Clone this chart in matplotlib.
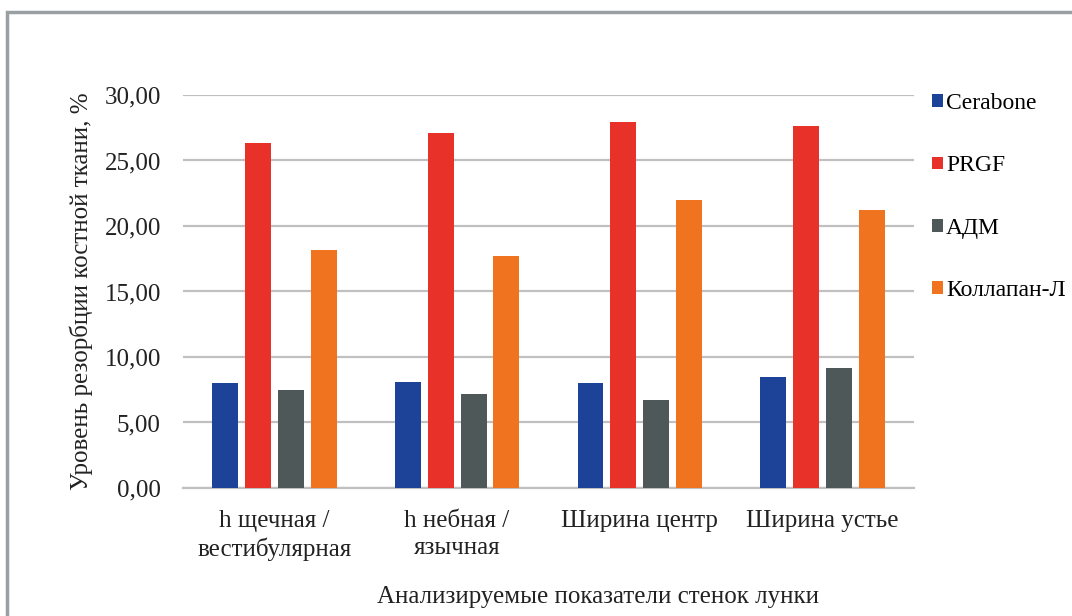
import matplotlib
matplotlib.use("Agg")
import matplotlib.pyplot as plt
import numpy as np
from matplotlib.patches import Rectangle

plt.rcParams['font.family'] = ['Liberation Serif', 'DejaVu Serif']

categories = ["h щечная /\nвестибулярная", "h небная /\nязычная",
              "Ширина центр", "Ширина устье"]
series_names = ["Cerabone", "PRGF", "АДМ", "Коллапан-Л"]
cerabone = [8.02, 8.12, 8.02, 8.48]
prgf = [26.36, 27.12, 27.96, 27.62]
adm = [7.51, 7.18, 6.75, 9.17]
kollapan = [18.13, 17.69, 21.95, 21.24]
yticks = [0, 5, 10, 15, 20, 25, 30]

colors = ['#1d4399', '#e83129', '#4f5859', '#f0731f']
values = [cerabone, prgf, adm, kollapan]
txt = '#222222'

fig = plt.figure(figsize=(10.72, 6.16), dpi=100)
ax = fig.add_axes([0.1707, 0.2078, 0.6819, 0.638])

x = np.arange(len(categories))
width = 0.142
step = 0.18
for i, (name, vals, c) in enumerate(zip(series_names, values, colors)):
    ax.bar(x + (i - 1.5) * step, vals, width, color=c, label=name, zorder=3)

ax.set_xlim(-0.5, len(categories) - 0.5)
ax.set_ylim(0, 30)
ax.set_yticks(yticks)
ax.set_yticklabels([f"{v:.2f}".replace('.', ',') for v in yticks], fontsize=18, color=txt)
ax.set_xticks(x)
ax.set_xticklabels(categories, fontsize=18, color=txt, linespacing=1.3)
ax.tick_params(length=0)
ax.tick_params(axis='x', pad=16)
ax.tick_params(axis='y', pad=16)
ax.yaxis.grid(True, color='#c0c0c0', lw=1.6, zorder=0)
for s in ['top', 'right', 'left']:
    ax.spines[s].set_visible(False)
ax.spines['bottom'].set_color('#c0c0c0')
ax.spines['bottom'].set_linewidth(1.6)

ax.set_ylabel("Уровень резорбции костной ткани, %", fontsize=18, color=txt, labelpad=8)
fig.text(598 / 1072, 1 - 597 / 616, "Анализируемые показатели стенок лунки",
         fontsize=18, color=txt, ha='center', va='center')

fig.legend(loc='upper left', bbox_to_anchor=(932 / 1072, 1 - 93 / 616), frameon=False,
           fontsize=17, labelspacing=1.75, handlelength=0.45, handleheight=0.45,
           handletextpad=0.15, borderpad=0, borderaxespad=0)

# outer frame of the chart area
fig.patches.append(Rectangle((7 / 1072, -0.05), 1.05, 1 - 12 / 616 + 0.05,
                             transform=fig.transFigure, fill=False,
                             edgecolor='#9a9fa2', lw=2.5))

fig.savefig("out.png", dpi=100, facecolor='white')
